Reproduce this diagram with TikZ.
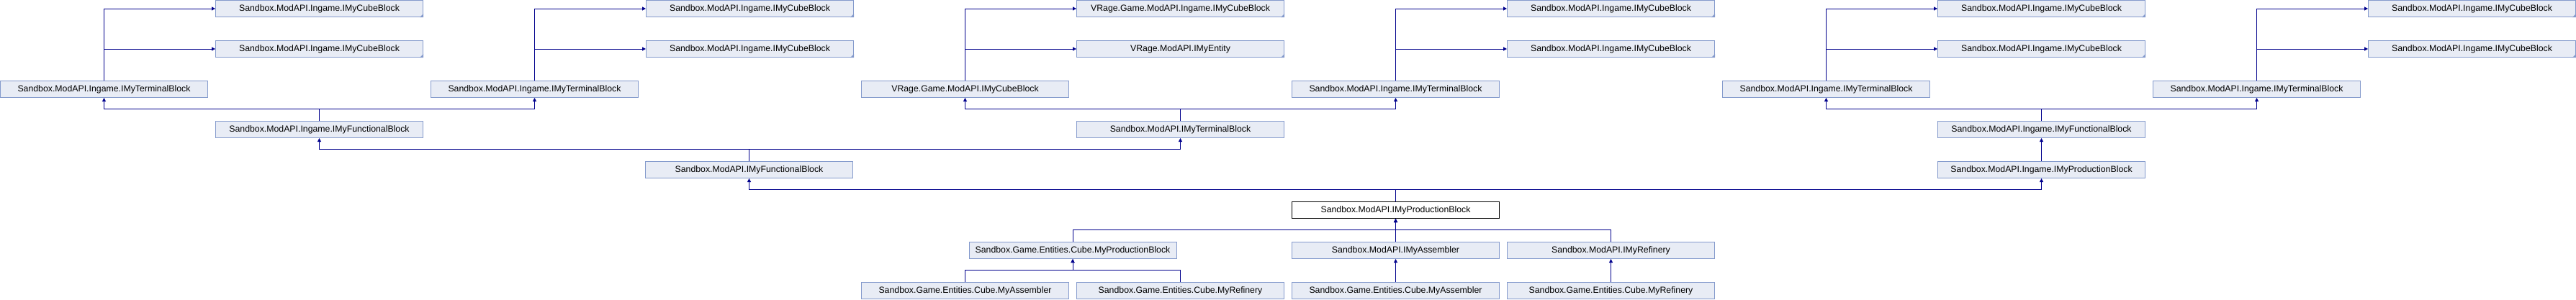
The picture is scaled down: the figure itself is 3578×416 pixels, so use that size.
\documentclass[tikz,border=0pt]{standalone}
\usepackage{fontspec}
\setmainfont{Liberation Sans}
\usetikzlibrary{arrows.meta}
\definecolor{cfill}{RGB}{232,236,245}
\definecolor{cedge}{RGB}{132,154,204}
\definecolor{cline}{RGB}{0,0,140}

\tikzset{
  cls/.style={draw=cedge, fill=cfill, line width=1pt, minimum width=288pt,
    minimum height=23pt, inner sep=0pt, font=\fontsize{12.3}{14}\selectfont},
  selfcls/.style={cls, draw=black, fill=white},
  inh/.style={draw=cline, line width=1pt, -{Triangle[length=5pt, width=5pt]}},
}

\begin{document}
\begin{tikzpicture}[x=1pt, y=-1pt]
\useasboundingbox (0, 0) rectangle (3578, 416);

% top two rows (truncated parents)
\foreach \k/\ta/\tb in {1/Sandbox.ModAPI.Ingame.IMyCubeBlock/Sandbox.ModAPI.Ingame.IMyCubeBlock,
    3/Sandbox.ModAPI.Ingame.IMyCubeBlock/Sandbox.ModAPI.Ingame.IMyCubeBlock,
    5/VRage.Game.ModAPI.Ingame.IMyCubeBlock/VRage.ModAPI.IMyEntity,
    7/Sandbox.ModAPI.Ingame.IMyCubeBlock/Sandbox.ModAPI.Ingame.IMyCubeBlock,
    9/Sandbox.ModAPI.Ingame.IMyCubeBlock/Sandbox.ModAPI.Ingame.IMyCubeBlock,
    11/Sandbox.ModAPI.Ingame.IMyCubeBlock/Sandbox.ModAPI.Ingame.IMyCubeBlock} {
    \node [cls] (r1c\k) at (299*\k + 144.5, 12) {\ta};
    \node [cls] (r2c\k) at (299*\k + 144.5, 68) {\tb};
    \fill [cedge] (r1c\k.south east) -- ++(-5, 0) -- ++(5, -5) -- cycle;
    \fill [cedge] (r2c\k.south east) -- ++(-5, 0) -- ++(5, -5) -- cycle;
}

% third row
\foreach \k/\txt in {0/Sandbox.ModAPI.Ingame.IMyTerminalBlock,
    2/Sandbox.ModAPI.Ingame.IMyTerminalBlock,
    4/VRage.Game.ModAPI.IMyCubeBlock,
    6/Sandbox.ModAPI.Ingame.IMyTerminalBlock,
    8/Sandbox.ModAPI.Ingame.IMyTerminalBlock,
    10/Sandbox.ModAPI.Ingame.IMyTerminalBlock} {
    \node [cls] (r3c\k) at (299*\k + 144.5, 124) {\txt};
}

% functional and terminal blocks
\node [cls] (funcA) at (443.5, 180) {Sandbox.ModAPI.Ingame.IMyFunctionalBlock};
\node [cls] (termS) at (1639.5, 180) {Sandbox.ModAPI.IMyTerminalBlock};
\node [cls] (funcB) at (2835.5, 180) {Sandbox.ModAPI.Ingame.IMyFunctionalBlock};
\node [cls] (func) at (1040.5, 236) {Sandbox.ModAPI.IMyFunctionalBlock};
\node [cls] (prodI) at (2835.5, 236) {Sandbox.ModAPI.Ingame.IMyProductionBlock};

% the class itself
\node [selfcls] (prod) at (1938.5, 292) {Sandbox.ModAPI.IMyProductionBlock};

% derived classes
\node [cls] (prodC) at (1490, 348) {Sandbox.Game.Entities.Cube.MyProductionBlock};
\node [cls] (asm) at (1938.5, 348) {Sandbox.ModAPI.IMyAssembler};
\node [cls] (refi) at (2237.5, 348) {Sandbox.ModAPI.IMyRefinery};
\node [cls] (asmA) at (1340.5, 404) {Sandbox.Game.Entities.Cube.MyAssembler};
\node [cls] (refA) at (1639.5, 404) {Sandbox.Game.Entities.Cube.MyRefinery};
\node [cls] (asmB) at (1938.5, 404) {Sandbox.Game.Entities.Cube.MyAssembler};
\node [cls] (refB) at (2237.5, 404) {Sandbox.Game.Entities.Cube.MyRefinery};

% links to the top rows
\foreach \k in {0, 2, 4, 6, 8, 10} {
    \pgfmathtruncatemacro{\j}{\k + 1}
    \draw [inh] (r3c\k.north) |- (r1c\j.west);
    \draw [inh] (r3c\k.north) |- (r2c\j.west);
}

% links between the lower rows
\foreach \child/\parent in {funcA/r3c0, funcA/r3c2, termS/r3c4, termS/r3c6,
    funcB/r3c8, funcB/r3c10, func/funcA, func/termS, prodI/funcB,
    prod/func, prod/prodI, prodC/prod, asm/prod, refi/prod,
    asmA/prodC, refA/prodC, asmB/asm, refB/refi} {
    \draw [inh] (\child.north) -- ++(0, -16.5) -| (\parent.south);
}

\end{tikzpicture}
\end{document}
